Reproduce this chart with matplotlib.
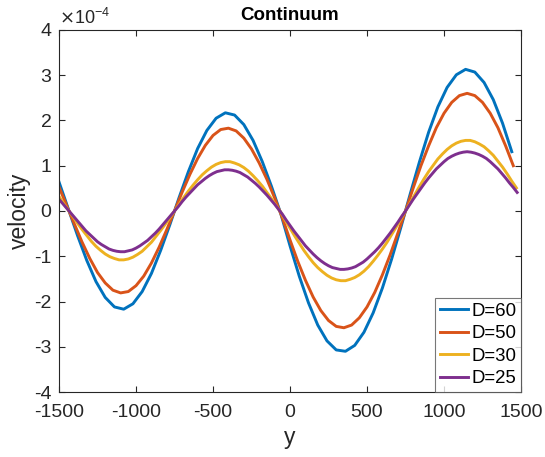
import numpy as np
import matplotlib
matplotlib.use("Agg")
import matplotlib.pyplot as plt
from matplotlib.ticker import FuncFormatter

plt.rcParams['font.family'] = ['Liberation Sans', 'DejaVu Sans']
plt.rcParams['axes.unicode_minus'] = False

# ---- data (velocity in units of 1e-4) ----
labels = ["D=60", "D=50", "D=30", "D=25"]
spacing = [60, 50, 30, 25]

v60 = [0.64, 0.05, -0.54, -1.09, -1.56, -1.91, -2.12, -2.17, -2.05, -1.78,
       -1.38, -0.87, -0.30, 0.30, 0.87, 1.38, 1.78, 2.05, 2.17, 2.12,
       1.91, 1.56, 1.09, 0.54, -0.06, -0.77, -1.44, -2.03, -2.52, -2.87,
       -3.07, -3.10, -2.97, -2.68, -2.25, -1.70, -1.06, -0.36, 0.37, 1.08,
       1.74, 2.30, 2.73, 3.01, 3.13, 3.07, 2.84, 2.46, 1.94, 1.31]

v50 = [0.53, 0.12, -0.29, -0.69, -1.05, -1.36, -1.59, -1.75, -1.81, -1.78,
       -1.65, -1.44, -1.15, -0.80, -0.41, 0.00, 0.42, 0.81, 1.16, 1.45,
       1.67, 1.80, 1.83, 1.77, 1.61, 1.37, 1.06, 0.70, 0.29, -0.15,
       -0.64, -1.11, -1.53, -1.90, -2.20, -2.42, -2.55, -2.58, -2.52, -2.36,
       -2.12, -1.80, -1.41, -0.97, -0.49, 0.00, 0.51, 1.00, 1.44, 1.84,
       2.16, 2.40, 2.55, 2.60, 2.55, 2.40, 2.16, 1.84, 1.44, 1.00]

v30 = [0.32, 0.17, 0.02, -0.12, -0.27, -0.41, -0.54, -0.67, -0.78, -0.87,
       -0.95, -1.01, -1.05, -1.08, -1.08, -1.06, -1.02, -0.96, -0.89, -0.79,
       -0.69, -0.56, -0.43, -0.29, -0.15, 0.00, 0.15, 0.30, 0.44, 0.57,
       0.69, 0.80, 0.89, 0.97, 1.03, 1.07, 1.09, 1.09, 1.06, 1.02,
       0.96, 0.88, 0.78, 0.67, 0.55, 0.41, 0.27, 0.12, -0.03, -0.21,
       -0.38, -0.55, -0.71, -0.87, -1.01, -1.14, -1.25, -1.34, -1.42, -1.48,
       -1.52, -1.54, -1.54, -1.51, -1.47, -1.41, -1.33, -1.23, -1.11, -0.98,
       -0.84, -0.69, -0.52, -0.35, -0.18, 0.00, 0.18, 0.36, 0.54, 0.71,
       0.87, 1.01, 1.15, 1.26, 1.36, 1.44, 1.50, 1.54, 1.56, 1.56,
       1.53, 1.48, 1.42, 1.33, 1.23, 1.10, 0.97, 0.82, 0.66, 0.51]

v25 = [0.26, 0.16, 0.06, -0.04, -0.14, -0.24, -0.34, -0.44, -0.52, -0.60,
       -0.68, -0.74, -0.79, -0.84, -0.87, -0.89, -0.90, -0.90, -0.88, -0.86,
       -0.82, -0.77, -0.71, -0.65, -0.57, -0.49, -0.40, -0.30, -0.20, -0.10,
       0.00, 0.10, 0.21, 0.31, 0.40, 0.49, 0.58, 0.65, 0.72, 0.78,
       0.83, 0.87, 0.89, 0.91, 0.91, 0.90, 0.88, 0.85, 0.80, 0.75,
       0.68, 0.61, 0.53, 0.44, 0.35, 0.25, 0.15, 0.04, -0.07, -0.20,
       -0.32, -0.44, -0.55, -0.66, -0.77, -0.86, -0.95, -1.03, -1.10, -1.16,
       -1.21, -1.25, -1.27, -1.29, -1.29, -1.28, -1.26, -1.23, -1.18, -1.13,
       -1.06, -0.98, -0.90, -0.81, -0.71, -0.60, -0.49, -0.37, -0.25, -0.12,
       0.00, 0.13, 0.26, 0.38, 0.50, 0.62, 0.73, 0.83, 0.93, 1.01,
       1.09, 1.16, 1.21, 1.25, 1.28, 1.30, 1.31, 1.30, 1.28, 1.25,
       1.21, 1.16, 1.09, 1.01, 0.93, 0.83, 0.73, 0.62, 0.52, 0.41]

series = [v60, v50, v30, v25]
colors = ["#0072BD", "#D95319", "#EDB120", "#7E2F8E"]

xticks = [-1500, -1000, -500, 0, 500, 1000, 1500]
yticks = [-4, -3, -2, -1, 0, 1, 2, 3, 4]

fig = plt.figure(figsize=(5.45, 4.57), dpi=100)
ax = fig.add_axes([0.1083, 0.1422, 0.8477, 0.7922])

for vals, d, c, lab in zip(series, spacing, colors, labels):
    yv = np.array(vals) * 1e-4
    xv = -1500 + d * np.arange(len(vals))
    ax.plot(xv, yv, color=c, lw=2.1, label=lab)

ax.set_xlim(-1500, 1500)
ax.set_ylim(-4e-4, 4e-4)
ax.set_xticks(xticks)
ax.set_yticks([t * 1e-4 for t in yticks])
ax.yaxis.set_major_formatter(FuncFormatter(lambda v, p: f"{round(v * 1e4):d}"))
ax.xaxis.set_major_formatter(FuncFormatter(lambda v, p: f"{int(round(v)):d}"))

axc = "#262626"
for s in ax.spines.values():
    s.set_color(axc)
    s.set_linewidth(0.8)
ax.tick_params(direction='in', top=True, right=True, length=4, width=0.8,
               color=axc, labelcolor=axc, labelsize=14)
ax.tick_params(axis='x', pad=8.5)
ax.tick_params(axis='y', pad=5.5)

ax.set_title("Continuum", fontsize=13.5, fontweight='bold', color='black', pad=7)
ax.set_xlabel("y", fontsize=16.5, color=axc, labelpad=4)
ax.set_ylabel("velocity", fontsize=16.5, color=axc, labelpad=2)

ax.text(0.0, 1.005, r"$\times$10$^{\mathregular{-4}}$", transform=ax.transAxes,
        fontsize=13, color=axc, ha='left', va='bottom')

leg = ax.legend(loc='lower right', bbox_to_anchor=(1.0, 0.0), borderaxespad=0.0,
                fontsize=13.4, frameon=True, fancybox=False, handlelength=1.5,
                handletextpad=0.2, labelspacing=0.3, borderpad=0.25)
leg.get_frame().set_edgecolor("#555555")
leg.get_frame().set_linewidth(0.8)

fig.savefig("out.png", dpi=100)
